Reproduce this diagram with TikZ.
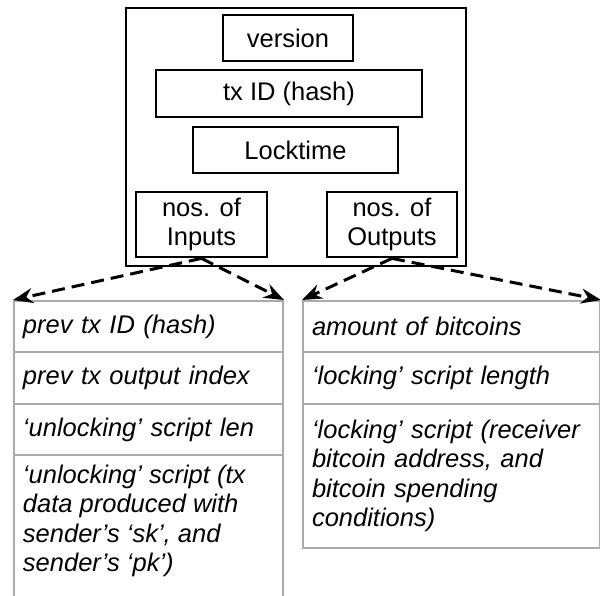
\documentclass[tikz,border=0pt]{standalone}
\usepackage{fontspec}
\setmainfont{Liberation Sans}
\usetikzlibrary{arrows.meta}
\definecolor{cellgray}{HTML}{ABABAB}

\begin{document}
\begin{tikzpicture}
        [x=1pt, y=-1pt, font=\fontsize{25.5}{29.5}\selectfont, >={Stealth[length=20pt, width=15pt]},
         field/.style={rectangle, draw=black, line width=2.8pt, align=center, inner sep=0pt},
         cell/.style={rectangle, draw=cellgray, line width=2pt, anchor=north west, align=left, inner xsep=9pt, inner ysep=0pt, font=\fontsize{25.5}{29.3}\selectfont\itshape},
         link/.style={->, line width=3pt, dash pattern=on 13pt off 7pt}]

        \clip (0, 0) rectangle (600, 596);

        % transaction
        \node[field, minimum width=340pt, minimum height=258pt] (tx) at (296, 137) {};

        \node[field, minimum width=130pt, minimum height=46pt] (version) at (288, 38) {version};
        \node[field, minimum width=266pt, minimum height=47pt] (txid) at (289, 93.5) {tx ID (hash)};
        \node[field, minimum width=205pt, minimum height=46pt] (locktime) at (295.5, 150) {Locktime};
        \node[field, minimum width=131pt, minimum height=65pt] (inputs) at (201.5, 224.5) {nos. of\\Inputs};
        \node[field, minimum width=130pt, minimum height=65pt] (outputs) at (392, 224.5) {nos. of\\Outputs};

        % input fields
        \node[cell, text width=251pt, minimum height=51pt] (inprev) at (13, 300) {prev tx ID (hash)};
        \node[cell, text width=251pt, minimum height=52pt] (inindex) at (13, 351) {prev tx output index};
        \node[cell, text width=251pt, minimum height=51pt] (inlen) at (13, 403) {‘unlocking’ script len};
        \node[cell, inner ysep=10pt] (inscript) at (13, 454) {\parbox[t][135pt][t]{251pt}{‘unlocking’ script (tx\\data produced with\\sender’s ‘sk’, and\\sender’s ‘pk’)}};

        % output fields
        \node[cell, text width=279pt, minimum height=51pt] (outamount) at (302, 300) {amount of bitcoins};
        \node[cell, text width=279pt, minimum height=52pt] (outlen) at (302, 351) {‘locking’ script length};
        \node[cell, text width=279pt, minimum height=144pt] (outscript) at (302, 403) {‘locking’ script (receiver\\bitcoin address, and\\bitcoin spending\\conditions)};

        \draw[link] (inputs.south) -- (inprev.north west);
        \draw[link] (inputs.south) -- (inprev.north east);
        \draw[link] (outputs.south) -- (outamount.north west);
        \draw[link] (outputs.south) -- (outamount.north east);
    \end{tikzpicture}
\end{document}
